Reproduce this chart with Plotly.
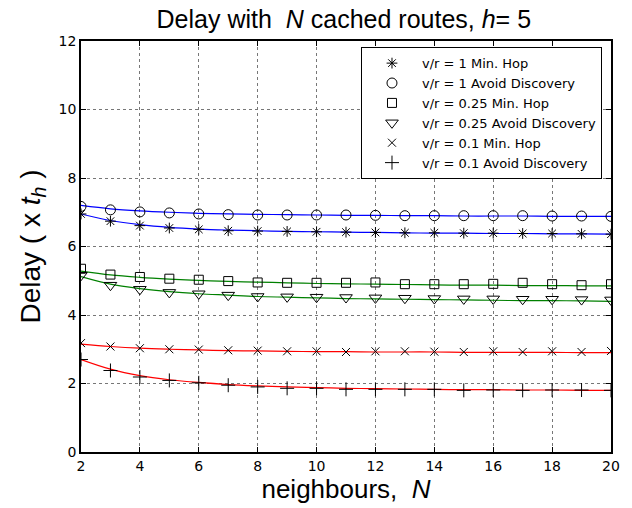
import plotly.graph_objects as go

N = list(range(2, 21))

# simulation markers
sim_vr1_minhop = [6.95, 6.74, 6.61, 6.54, 6.50, 6.46, 6.45, 6.44, 6.43, 6.42, 6.41, 6.40, 6.40, 6.39, 6.39, 6.38, 6.38, 6.37, 6.36]
sim_vr1_avoid = [7.17, 7.07, 7.01, 6.98, 6.95, 6.93, 6.92, 6.92, 6.92, 6.92, 6.91, 6.90, 6.90, 6.90, 6.90, 6.90, 6.89, 6.89, 6.88]
sim_vr025_minhop = [5.35, 5.18, 5.11, 5.06, 5.03, 4.99, 4.95, 4.94, 4.94, 4.94, 4.95, 4.90, 4.90, 4.90, 4.91, 4.94, 4.90, 4.87, 4.90]
sim_vr025_avoid = [5.16, 4.87, 4.75, 4.66, 4.62, 4.58, 4.54, 4.53, 4.52, 4.51, 4.50, 4.49, 4.48, 4.47, 4.47, 4.46, 4.46, 4.45, 4.44]
sim_vr01_minhop = [3.18, 3.08, 3.03, 3.00, 2.99, 2.97, 2.96, 2.94, 2.94, 2.92, 2.94, 2.94, 2.93, 2.92, 2.94, 2.92, 2.94, 2.92, 2.95]
sim_vr01_avoid = [2.70, 2.38, 2.19, 2.09, 2.02, 1.95, 1.90, 1.86, 1.86, 1.83, 1.83, 1.83, 1.83, 1.80, 1.81, 1.80, 1.81, 1.81, 1.80]

# analytical curves
mod_vr1_minhop = [6.95, 6.76, 6.64, 6.56, 6.51, 6.48, 6.46, 6.44, 6.43, 6.42, 6.41, 6.40, 6.39, 6.39, 6.38, 6.38, 6.37, 6.37, 6.36]
mod_vr1_avoid = [7.20, 7.10, 7.04, 7.00, 6.97, 6.95, 6.94, 6.93, 6.92, 6.91, 6.91, 6.90, 6.90, 6.89, 6.89, 6.89, 6.88, 6.88, 6.88]
mod_vr025_minhop = [5.28, 5.17, 5.10, 5.05, 5.01, 4.98, 4.96, 4.94, 4.92, 4.91, 4.90, 4.89, 4.88, 4.87, 4.87, 4.86, 4.86, 4.85, 4.85]
mod_vr025_avoid = [5.12, 4.90, 4.77, 4.68, 4.62, 4.58, 4.54, 4.52, 4.50, 4.48, 4.47, 4.46, 4.45, 4.44, 4.43, 4.42, 4.42, 4.41, 4.40]
mod_vr01_minhop = [3.15, 3.08, 3.03, 3.00, 2.98, 2.96, 2.95, 2.94, 2.93, 2.93, 2.92, 2.92, 2.92, 2.91, 2.91, 2.91, 2.91, 2.90, 2.90]
mod_vr01_avoid = [2.70, 2.42, 2.23, 2.11, 2.03, 1.97, 1.93, 1.90, 1.88, 1.86, 1.85, 1.84, 1.83, 1.82, 1.82, 1.81, 1.81, 1.80, 1.80]

labels = ["v/r = 1 Min. Hop", "v/r = 1 Avoid Discovery", "v/r = 0.25 Min. Hop",
          "v/r = 0.25 Avoid Discovery", "v/r = 0.1 Min. Hop", "v/r = 0.1 Avoid Discovery"]
symbols = ["asterisk-open", "circle-open", "square-open", "triangle-down-open", "x-thin-open", "cross-thin-open"]
sizes = [9, 10, 9, 11, 8, 10]
colors = ["#0000ff", "#0000ff", "#008000", "#008000", "#ff0000", "#ff0000"]
sims = [sim_vr1_minhop, sim_vr1_avoid, sim_vr025_minhop, sim_vr025_avoid, sim_vr01_minhop, sim_vr01_avoid]
mods = [mod_vr1_minhop, mod_vr1_avoid, mod_vr025_minhop, mod_vr025_avoid, mod_vr01_minhop, mod_vr01_avoid]

fig = go.Figure()
for m, c in zip(mods, colors):
    fig.add_trace(go.Scatter(x=N, y=m, mode="lines", line=dict(color=c, width=1.2, shape="spline"),
                             showlegend=False, hoverinfo="skip"))
for s, lab, sym, sz in zip(sims, labels, symbols, sizes):
    fig.add_trace(go.Scatter(x=N, y=s, mode="markers", name=lab,
                             marker=dict(symbol=sym, size=sz, color="black", line=dict(color="black", width=1))))

font = "Liberation Sans, Arial, Helvetica, sans-serif"
wide = "DejaVu Sans, Liberation Sans, Arial, sans-serif"
axis_common = dict(showline=True, linecolor="black", linewidth=1.5, mirror="ticks", ticks="inside",
                   ticklen=5, tickcolor="black", showgrid=True, gridcolor="#777777", griddash="dot",
                   gridwidth=1, zeroline=False, tickfont=dict(family=wide, size=14, color="black"))

fig.update_layout(
    width=632, height=508,
    margin=dict(l=81, r=20, t=41, b=53),
    paper_bgcolor="white", plot_bgcolor="white",
    font=dict(family=font, color="black"),
    title=dict(text="Delay with  <i>N</i> cached routes, <i>h</i>= 5", x=0.544, xanchor="center",
               y=0.963, yanchor="middle", font=dict(size=25, family=font)),
    xaxis=dict(range=[2, 20], tickvals=list(range(2, 21, 2)),
               title=dict(text="neighbours,  <i>N</i>", font=dict(size=26, family=font), standoff=4),
               **axis_common),
    yaxis=dict(range=[0, 12], tickvals=list(range(0, 13, 2)),
               title=dict(text="Delay ( x <i>t</i><sub><i>h</i></sub> )", font=dict(size=28, family=font), standoff=10),
               **axis_common),
    legend=dict(x=0.983, y=0.985, xanchor="right", yanchor="top", bgcolor="white",
                bordercolor="black", borderwidth=1, font=dict(size=13, family=wide),
                itemwidth=50, tracegroupgap=0),
)

fig.write_html("out.html")
